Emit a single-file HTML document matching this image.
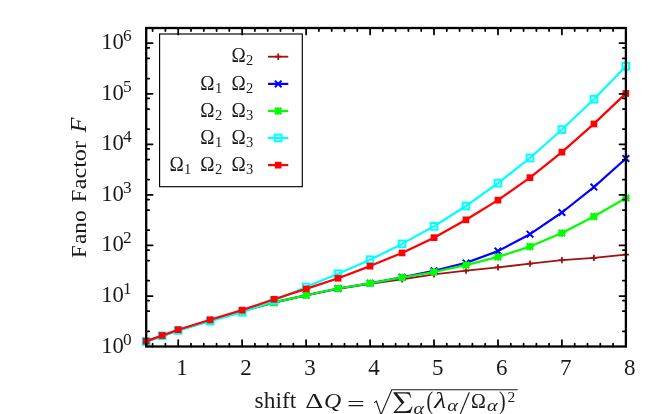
<!DOCTYPE html>
<html><head><meta charset="utf-8"><title>Fano factor</title>
<style>
html,body{margin:0;padding:0;background:#fff;}
body{width:664px;height:414px;overflow:hidden;font-family:"Liberation Serif",serif;}
svg{display:block;will-change:transform;opacity:0.999}
text{font-family:"Liberation Serif",serif;fill:#1a1a1a}
.it{font-style:italic}
</style></head><body>
<svg width="664" height="414" viewBox="0 0 664 414">
<rect width="664" height="414" fill="#fff"/>
<polyline points="146.2,341.5 162.2,336.0 178.2,330.3 210.2,320.5 242.1,311.0 274.1,302.5 306.1,295.4 338.1,288.9 370.1,283.9 402.0,279.3 434.0,274.3 466.0,270.7 498.0,267.4 530.0,263.7 561.9,260.2 593.9,257.8 625.9,254.6" fill="none" stroke="#a01212" stroke-width="1.8" stroke-linejoin="round"/>
<path d="M143.0,341.5H149.3M146.2,338.4V344.6" stroke="#a01212" stroke-width="1.8" fill="none"/>
<path d="M159.0,336.0H165.3M162.2,332.9V339.1" stroke="#a01212" stroke-width="1.8" fill="none"/>
<path d="M175.0,330.3H181.3M178.2,327.2V333.4" stroke="#a01212" stroke-width="1.8" fill="none"/>
<path d="M207.0,320.5H213.3M210.2,317.4V323.6" stroke="#a01212" stroke-width="1.8" fill="none"/>
<path d="M239.0,311.0H245.3M242.1,307.9V314.1" stroke="#a01212" stroke-width="1.8" fill="none"/>
<path d="M271.0,302.5H277.3M274.1,299.4V305.6" stroke="#a01212" stroke-width="1.8" fill="none"/>
<path d="M303.0,295.4H309.2M306.1,292.2V298.5" stroke="#a01212" stroke-width="1.8" fill="none"/>
<path d="M334.9,288.9H341.2M338.1,285.8V292.0" stroke="#a01212" stroke-width="1.8" fill="none"/>
<path d="M366.9,283.9H373.2M370.1,280.8V287.0" stroke="#a01212" stroke-width="1.8" fill="none"/>
<path d="M398.9,279.3H405.2M402.0,276.2V282.4" stroke="#a01212" stroke-width="1.8" fill="none"/>
<path d="M430.9,274.3H437.2M434.0,271.2V277.4" stroke="#a01212" stroke-width="1.8" fill="none"/>
<path d="M462.9,270.7H469.1M466.0,267.6V273.8" stroke="#a01212" stroke-width="1.8" fill="none"/>
<path d="M494.8,267.4H501.1M498.0,264.2V270.5" stroke="#a01212" stroke-width="1.8" fill="none"/>
<path d="M526.8,263.7H533.1M530.0,260.6V266.8" stroke="#a01212" stroke-width="1.8" fill="none"/>
<path d="M558.8,260.2H565.1M561.9,257.1V263.3" stroke="#a01212" stroke-width="1.8" fill="none"/>
<path d="M590.8,257.8H597.1M593.9,254.7V260.9" stroke="#a01212" stroke-width="1.8" fill="none"/>
<path d="M622.8,254.6H629.0M625.9,251.4V257.8" stroke="#a01212" stroke-width="1.8" fill="none"/>
<polyline points="146.2,341.5 162.2,336.0 178.2,330.3 210.2,320.5 242.1,311.0 274.1,302.4 306.1,295.2 338.1,288.5 370.1,283.3 402.0,277.3 434.0,270.8 466.0,262.9 498.0,251.1 530.0,234.2 561.9,212.5 593.9,187.1 625.9,158.5" fill="none" stroke="#0000ff" stroke-width="2.2" stroke-linejoin="round"/>
<path d="M142.9,338.2L149.5,344.8M142.9,344.8L149.5,338.2" stroke="#0000ff" stroke-width="2" fill="none"/>
<path d="M158.9,332.7L165.5,339.3M158.9,339.3L165.5,332.7" stroke="#0000ff" stroke-width="2" fill="none"/>
<path d="M174.9,327.0L181.5,333.6M174.9,333.6L181.5,327.0" stroke="#0000ff" stroke-width="2" fill="none"/>
<path d="M206.9,317.2L213.5,323.8M206.9,323.8L213.5,317.2" stroke="#0000ff" stroke-width="2" fill="none"/>
<path d="M238.8,307.7L245.4,314.3M238.8,314.3L245.4,307.7" stroke="#0000ff" stroke-width="2" fill="none"/>
<path d="M270.8,299.1L277.4,305.7M270.8,305.7L277.4,299.1" stroke="#0000ff" stroke-width="2" fill="none"/>
<path d="M302.8,291.9L309.4,298.5M302.8,298.5L309.4,291.9" stroke="#0000ff" stroke-width="2" fill="none"/>
<path d="M334.8,285.2L341.4,291.8M334.8,291.8L341.4,285.2" stroke="#0000ff" stroke-width="2" fill="none"/>
<path d="M366.8,280.0L373.4,286.6M366.8,286.6L373.4,280.0" stroke="#0000ff" stroke-width="2" fill="none"/>
<path d="M398.7,274.0L405.3,280.6M398.7,280.6L405.3,274.0" stroke="#0000ff" stroke-width="2" fill="none"/>
<path d="M430.7,267.5L437.3,274.1M430.7,274.1L437.3,267.5" stroke="#0000ff" stroke-width="2" fill="none"/>
<path d="M462.7,259.6L469.3,266.2M462.7,266.2L469.3,259.6" stroke="#0000ff" stroke-width="2" fill="none"/>
<path d="M494.7,247.8L501.3,254.4M494.7,254.4L501.3,247.8" stroke="#0000ff" stroke-width="2" fill="none"/>
<path d="M526.7,230.9L533.3,237.5M526.7,237.5L533.3,230.9" stroke="#0000ff" stroke-width="2" fill="none"/>
<path d="M558.6,209.2L565.2,215.8M558.6,215.8L565.2,209.2" stroke="#0000ff" stroke-width="2" fill="none"/>
<path d="M590.6,183.8L597.2,190.4M590.6,190.4L597.2,183.8" stroke="#0000ff" stroke-width="2" fill="none"/>
<path d="M622.6,155.2L629.2,161.8M622.6,161.8L629.2,155.2" stroke="#0000ff" stroke-width="2" fill="none"/>
<polyline points="146.2,341.5 162.2,336.0 178.2,330.3 210.2,320.5 242.1,311.0 274.1,302.4 306.1,295.2 338.1,288.5 370.1,283.3 402.0,277.5 434.0,272.0 466.0,265.1 498.0,256.9 530.0,246.6 561.9,233.1 593.9,216.5 625.9,198.0" fill="none" stroke="#00ff00" stroke-width="2.2" stroke-linejoin="round"/>
<path d="M142.9,338.2L149.5,344.8M142.9,344.8L149.5,338.2" stroke="#00ff00" stroke-width="2" fill="none"/><path d="M142.4,341.5H150.0M146.2,337.7V345.3" stroke="#00ff00" stroke-width="2" fill="none"/><rect x="143.2" y="338.5" width="6" height="6" fill="#00ff00"/>
<path d="M158.9,332.7L165.5,339.3M158.9,339.3L165.5,332.7" stroke="#00ff00" stroke-width="2" fill="none"/><path d="M158.4,336.0H166.0M162.2,332.2V339.8" stroke="#00ff00" stroke-width="2" fill="none"/><rect x="159.2" y="333.0" width="6" height="6" fill="#00ff00"/>
<path d="M174.9,327.0L181.5,333.6M174.9,333.6L181.5,327.0" stroke="#00ff00" stroke-width="2" fill="none"/><path d="M174.4,330.3H182.0M178.2,326.5V334.1" stroke="#00ff00" stroke-width="2" fill="none"/><rect x="175.2" y="327.3" width="6" height="6" fill="#00ff00"/>
<path d="M206.9,317.2L213.5,323.8M206.9,323.8L213.5,317.2" stroke="#00ff00" stroke-width="2" fill="none"/><path d="M206.4,320.5H214.0M210.2,316.7V324.3" stroke="#00ff00" stroke-width="2" fill="none"/><rect x="207.2" y="317.5" width="6" height="6" fill="#00ff00"/>
<path d="M238.8,307.7L245.4,314.3M238.8,314.3L245.4,307.7" stroke="#00ff00" stroke-width="2" fill="none"/><path d="M238.3,311.0H245.9M242.1,307.2V314.8" stroke="#00ff00" stroke-width="2" fill="none"/><rect x="239.1" y="308.0" width="6" height="6" fill="#00ff00"/>
<path d="M270.8,299.1L277.4,305.7M270.8,305.7L277.4,299.1" stroke="#00ff00" stroke-width="2" fill="none"/><path d="M270.3,302.4H277.9M274.1,298.6V306.2" stroke="#00ff00" stroke-width="2" fill="none"/><rect x="271.1" y="299.4" width="6" height="6" fill="#00ff00"/>
<path d="M302.8,291.9L309.4,298.5M302.8,298.5L309.4,291.9" stroke="#00ff00" stroke-width="2" fill="none"/><path d="M302.3,295.2H309.9M306.1,291.4V299.0" stroke="#00ff00" stroke-width="2" fill="none"/><rect x="303.1" y="292.2" width="6" height="6" fill="#00ff00"/>
<path d="M334.8,285.2L341.4,291.8M334.8,291.8L341.4,285.2" stroke="#00ff00" stroke-width="2" fill="none"/><path d="M334.3,288.5H341.9M338.1,284.7V292.3" stroke="#00ff00" stroke-width="2" fill="none"/><rect x="335.1" y="285.5" width="6" height="6" fill="#00ff00"/>
<path d="M366.8,280.0L373.4,286.6M366.8,286.6L373.4,280.0" stroke="#00ff00" stroke-width="2" fill="none"/><path d="M366.3,283.3H373.9M370.1,279.5V287.1" stroke="#00ff00" stroke-width="2" fill="none"/><rect x="367.1" y="280.3" width="6" height="6" fill="#00ff00"/>
<path d="M398.7,274.2L405.3,280.8M398.7,280.8L405.3,274.2" stroke="#00ff00" stroke-width="2" fill="none"/><path d="M398.2,277.5H405.8M402.0,273.7V281.3" stroke="#00ff00" stroke-width="2" fill="none"/><rect x="399.0" y="274.5" width="6" height="6" fill="#00ff00"/>
<path d="M430.7,268.7L437.3,275.3M430.7,275.3L437.3,268.7" stroke="#00ff00" stroke-width="2" fill="none"/><path d="M430.2,272.0H437.8M434.0,268.2V275.8" stroke="#00ff00" stroke-width="2" fill="none"/><rect x="431.0" y="269.0" width="6" height="6" fill="#00ff00"/>
<path d="M462.7,261.8L469.3,268.4M462.7,268.4L469.3,261.8" stroke="#00ff00" stroke-width="2" fill="none"/><path d="M462.2,265.1H469.8M466.0,261.3V268.9" stroke="#00ff00" stroke-width="2" fill="none"/><rect x="463.0" y="262.1" width="6" height="6" fill="#00ff00"/>
<path d="M494.7,253.6L501.3,260.2M494.7,260.2L501.3,253.6" stroke="#00ff00" stroke-width="2" fill="none"/><path d="M494.2,256.9H501.8M498.0,253.1V260.7" stroke="#00ff00" stroke-width="2" fill="none"/><rect x="495.0" y="253.9" width="6" height="6" fill="#00ff00"/>
<path d="M526.7,243.3L533.3,249.9M526.7,249.9L533.3,243.3" stroke="#00ff00" stroke-width="2" fill="none"/><path d="M526.2,246.6H533.8M530.0,242.8V250.4" stroke="#00ff00" stroke-width="2" fill="none"/><rect x="527.0" y="243.6" width="6" height="6" fill="#00ff00"/>
<path d="M558.6,229.8L565.2,236.4M558.6,236.4L565.2,229.8" stroke="#00ff00" stroke-width="2" fill="none"/><path d="M558.1,233.1H565.7M561.9,229.3V236.9" stroke="#00ff00" stroke-width="2" fill="none"/><rect x="558.9" y="230.1" width="6" height="6" fill="#00ff00"/>
<path d="M590.6,213.2L597.2,219.8M590.6,219.8L597.2,213.2" stroke="#00ff00" stroke-width="2" fill="none"/><path d="M590.1,216.5H597.7M593.9,212.7V220.3" stroke="#00ff00" stroke-width="2" fill="none"/><rect x="590.9" y="213.5" width="6" height="6" fill="#00ff00"/>
<path d="M622.6,194.7L629.2,201.3M622.6,201.3L629.2,194.7" stroke="#00ff00" stroke-width="2" fill="none"/><path d="M622.1,198.0H629.7M625.9,194.2V201.8" stroke="#00ff00" stroke-width="2" fill="none"/><rect x="622.9" y="195.0" width="6" height="6" fill="#00ff00"/>
<polyline points="146.2,341.6 162.2,335.9 178.2,330.4 210.2,321.3 242.1,312.3 274.1,300.4 306.1,287.0 338.1,273.8 370.1,259.8 402.0,243.9 434.0,226.3 466.0,206.0 498.0,183.1 530.0,158.0 561.9,129.5 593.9,99.2 625.9,66.3" fill="none" stroke="#00ffff" stroke-width="2.2" stroke-linejoin="round"/>
<rect x="142.8" y="338.2" width="6.7" height="6.7" fill="none" stroke="#00ffff" stroke-width="2.0"/>
<rect x="158.8" y="332.5" width="6.7" height="6.7" fill="none" stroke="#00ffff" stroke-width="2.0"/>
<rect x="174.8" y="327.0" width="6.7" height="6.7" fill="none" stroke="#00ffff" stroke-width="2.0"/>
<rect x="206.8" y="317.9" width="6.7" height="6.7" fill="none" stroke="#00ffff" stroke-width="2.0"/>
<rect x="238.8" y="308.9" width="6.7" height="6.7" fill="none" stroke="#00ffff" stroke-width="2.0"/>
<rect x="270.8" y="297.0" width="6.7" height="6.7" fill="none" stroke="#00ffff" stroke-width="2.0"/>
<rect x="302.8" y="283.6" width="6.7" height="6.7" fill="none" stroke="#00ffff" stroke-width="2.0"/>
<rect x="334.7" y="270.4" width="6.7" height="6.7" fill="none" stroke="#00ffff" stroke-width="2.0"/>
<rect x="366.7" y="256.4" width="6.7" height="6.7" fill="none" stroke="#00ffff" stroke-width="2.0"/>
<rect x="398.7" y="240.6" width="6.7" height="6.7" fill="none" stroke="#00ffff" stroke-width="2.0"/>
<rect x="430.7" y="223.0" width="6.7" height="6.7" fill="none" stroke="#00ffff" stroke-width="2.0"/>
<rect x="462.6" y="202.7" width="6.7" height="6.7" fill="none" stroke="#00ffff" stroke-width="2.0"/>
<rect x="494.6" y="179.8" width="6.7" height="6.7" fill="none" stroke="#00ffff" stroke-width="2.0"/>
<rect x="526.6" y="154.7" width="6.7" height="6.7" fill="none" stroke="#00ffff" stroke-width="2.0"/>
<rect x="558.6" y="126.2" width="6.7" height="6.7" fill="none" stroke="#00ffff" stroke-width="2.0"/>
<rect x="590.6" y="95.9" width="6.7" height="6.7" fill="none" stroke="#00ffff" stroke-width="2.0"/>
<rect x="622.5" y="62.9" width="6.7" height="6.7" fill="none" stroke="#00ffff" stroke-width="2.0"/>
<polyline points="146.2,341.1 162.2,335.5 178.2,329.7 210.2,319.8 242.1,310.1 274.1,299.3 306.1,288.9 338.1,278.3 370.1,266.1 402.0,252.9 434.0,237.7 466.0,219.8 498.0,200.1 530.0,177.7 561.9,152.1 593.9,123.9 625.9,93.4" fill="none" stroke="#ff0000" stroke-width="2.2" stroke-linejoin="round"/>
<rect x="142.8" y="337.8" width="6.7" height="6.7" fill="#ff0000"/>
<rect x="158.8" y="332.1" width="6.7" height="6.7" fill="#ff0000"/>
<rect x="174.8" y="326.3" width="6.7" height="6.7" fill="#ff0000"/>
<rect x="206.8" y="316.4" width="6.7" height="6.7" fill="#ff0000"/>
<rect x="238.8" y="306.8" width="6.7" height="6.7" fill="#ff0000"/>
<rect x="270.8" y="295.9" width="6.7" height="6.7" fill="#ff0000"/>
<rect x="302.8" y="285.5" width="6.7" height="6.7" fill="#ff0000"/>
<rect x="334.7" y="274.9" width="6.7" height="6.7" fill="#ff0000"/>
<rect x="366.7" y="262.8" width="6.7" height="6.7" fill="#ff0000"/>
<rect x="398.7" y="249.6" width="6.7" height="6.7" fill="#ff0000"/>
<rect x="430.7" y="234.3" width="6.7" height="6.7" fill="#ff0000"/>
<rect x="462.6" y="216.5" width="6.7" height="6.7" fill="#ff0000"/>
<rect x="494.6" y="196.8" width="6.7" height="6.7" fill="#ff0000"/>
<rect x="526.6" y="174.3" width="6.7" height="6.7" fill="#ff0000"/>
<rect x="558.6" y="148.8" width="6.7" height="6.7" fill="#ff0000"/>
<rect x="590.6" y="120.6" width="6.7" height="6.7" fill="#ff0000"/>
<rect x="622.5" y="90.1" width="6.7" height="6.7" fill="#ff0000"/>
<rect x="159.6" y="34" width="142.7" height="152.7" fill="#fff" stroke="#000" stroke-width="1.15"/>
<path d="M178.2,346.5v-6.4M178.2,28.0v6.4M242.1,346.5v-6.4M242.1,28.0v6.4M306.1,346.5v-6.4M306.1,28.0v6.4M370.1,346.5v-6.4M370.1,28.0v6.4M434.0,346.5v-6.4M434.0,28.0v6.4M498.0,346.5v-6.4M498.0,28.0v6.4M561.9,346.5v-6.4M561.9,28.0v6.4M625.9,346.5v-6.4M625.9,28.0v6.4M152.6,346.5v-3.0M152.6,28.0v3.0M165.4,346.5v-3.0M165.4,28.0v3.0M191.0,346.5v-3.0M191.0,28.0v3.0M203.8,346.5v-3.0M203.8,28.0v3.0M216.6,346.5v-3.0M216.6,28.0v3.0M229.3,346.5v-3.0M229.3,28.0v3.0M254.9,346.5v-3.0M254.9,28.0v3.0M267.7,346.5v-3.0M267.7,28.0v3.0M280.5,346.5v-3.0M280.5,28.0v3.0M293.3,346.5v-3.0M293.3,28.0v3.0M318.9,346.5v-3.0M318.9,28.0v3.0M331.7,346.5v-3.0M331.7,28.0v3.0M344.5,346.5v-3.0M344.5,28.0v3.0M357.3,346.5v-3.0M357.3,28.0v3.0M382.9,346.5v-3.0M382.9,28.0v3.0M395.6,346.5v-3.0M395.6,28.0v3.0M408.4,346.5v-3.0M408.4,28.0v3.0M421.2,346.5v-3.0M421.2,28.0v3.0M446.8,346.5v-3.0M446.8,28.0v3.0M459.6,346.5v-3.0M459.6,28.0v3.0M472.4,346.5v-3.0M472.4,28.0v3.0M485.2,346.5v-3.0M485.2,28.0v3.0M510.8,346.5v-3.0M510.8,28.0v3.0M523.6,346.5v-3.0M523.6,28.0v3.0M536.4,346.5v-3.0M536.4,28.0v3.0M549.1,346.5v-3.0M549.1,28.0v3.0M574.7,346.5v-3.0M574.7,28.0v3.0M587.5,346.5v-3.0M587.5,28.0v3.0M600.3,346.5v-3.0M600.3,28.0v3.0M613.1,346.5v-3.0M613.1,28.0v3.0M146.2,331.3h3.0M625.9,331.3h-3.0M146.2,311.2h3.0M625.9,311.2h-3.0M146.2,300.6h3.0M625.9,300.6h-3.0M146.2,296.0h6.4M625.9,296.0h-6.4M146.2,280.7h3.0M625.9,280.7h-3.0M146.2,260.6h3.0M625.9,260.6h-3.0M146.2,250.0h3.0M625.9,250.0h-3.0M146.2,245.4h6.4M625.9,245.4h-6.4M146.2,230.2h3.0M625.9,230.2h-3.0M146.2,210.1h3.0M625.9,210.1h-3.0M146.2,199.5h3.0M625.9,199.5h-3.0M146.2,194.9h6.4M625.9,194.9h-6.4M146.2,179.6h3.0M625.9,179.6h-3.0M146.2,159.5h3.0M625.9,159.5h-3.0M146.2,148.9h3.0M625.9,148.9h-3.0M146.2,144.3h6.4M625.9,144.3h-6.4M146.2,129.1h3.0M625.9,129.1h-3.0M146.2,109.0h3.0M625.9,109.0h-3.0M146.2,98.4h3.0M625.9,98.4h-3.0M146.2,93.8h6.4M625.9,93.8h-6.4M146.2,78.5h3.0M625.9,78.5h-3.0M146.2,58.4h3.0M625.9,58.4h-3.0M146.2,47.8h3.0M625.9,47.8h-3.0M146.2,43.2h6.4M625.9,43.2h-6.4" stroke="#000" stroke-width="1.75" stroke-linecap="round" fill="none"/>
<rect x="146.2" y="28.0" width="479.7" height="318.5" fill="none" stroke="#000" stroke-width="2.3"/>
<path d="M268,56.7H288.3" stroke="#a01212" stroke-width="1.8"/>
<path d="M275.1,56.7H281.3M278.2,53.6V59.9" stroke="#a01212" stroke-width="1.8" fill="none"/>
<text x="231.4" y="62.3" font-size="21" textLength="14.2" lengthAdjust="spacingAndGlyphs">Ω</text>
<text x="246.0" y="65.4" font-size="14.5">2</text>
<path d="M268,83.9H288.3" stroke="#0000ff" stroke-width="2.2"/>
<path d="M274.9,80.6L281.5,87.2M274.9,87.2L281.5,80.6" stroke="#0000ff" stroke-width="2" fill="none"/>
<text x="200.3" y="89.5" font-size="21" textLength="14.2" lengthAdjust="spacingAndGlyphs">Ω</text>
<text x="214.9" y="92.6" font-size="14.5">1</text>
<text x="231.4" y="89.5" font-size="21" textLength="14.2" lengthAdjust="spacingAndGlyphs">Ω</text>
<text x="246.0" y="92.6" font-size="14.5">2</text>
<path d="M268,111.0H288.3" stroke="#00ff00" stroke-width="2.2"/>
<path d="M274.9,107.7L281.5,114.3M274.9,114.3L281.5,107.7" stroke="#00ff00" stroke-width="2" fill="none"/><path d="M274.4,111.0H282.0M278.2,107.2V114.8" stroke="#00ff00" stroke-width="2" fill="none"/><rect x="275.2" y="108.0" width="6" height="6" fill="#00ff00"/>
<text x="200.3" y="116.6" font-size="21" textLength="14.2" lengthAdjust="spacingAndGlyphs">Ω</text>
<text x="214.9" y="119.7" font-size="14.5">2</text>
<text x="231.4" y="116.6" font-size="21" textLength="14.2" lengthAdjust="spacingAndGlyphs">Ω</text>
<text x="246.0" y="119.7" font-size="14.5">3</text>
<path d="M268,137.9H288.3" stroke="#00ffff" stroke-width="2.2"/>
<rect x="274.8" y="134.6" width="6.7" height="6.7" fill="none" stroke="#00ffff" stroke-width="2.0"/>
<text x="200.3" y="143.5" font-size="21" textLength="14.2" lengthAdjust="spacingAndGlyphs">Ω</text>
<text x="214.9" y="146.6" font-size="14.5">1</text>
<text x="231.4" y="143.5" font-size="21" textLength="14.2" lengthAdjust="spacingAndGlyphs">Ω</text>
<text x="246.0" y="146.6" font-size="14.5">3</text>
<path d="M268,165.1H288.3" stroke="#ff0000" stroke-width="2.2"/>
<rect x="274.8" y="161.8" width="6.7" height="6.7" fill="#ff0000"/>
<text x="169.4" y="170.7" font-size="21" textLength="14.2" lengthAdjust="spacingAndGlyphs">Ω</text>
<text x="184.0" y="173.8" font-size="14.5">1</text>
<text x="200.3" y="170.7" font-size="21" textLength="14.2" lengthAdjust="spacingAndGlyphs">Ω</text>
<text x="214.9" y="173.8" font-size="14.5">2</text>
<text x="231.4" y="170.7" font-size="21" textLength="14.2" lengthAdjust="spacingAndGlyphs">Ω</text>
<text x="246.0" y="173.8" font-size="14.5">3</text>
<text x="101.2" y="352.5" font-size="23.5" textLength="22.6" lengthAdjust="spacingAndGlyphs">10</text>
<text x="122.9" y="344.5" font-size="17.3">0</text>
<text x="101.2" y="302.0" font-size="23.5" textLength="22.6" lengthAdjust="spacingAndGlyphs">10</text>
<text x="122.9" y="294.0" font-size="17.3">1</text>
<text x="101.2" y="251.4" font-size="23.5" textLength="22.6" lengthAdjust="spacingAndGlyphs">10</text>
<text x="122.9" y="243.4" font-size="17.3">2</text>
<text x="101.2" y="200.9" font-size="23.5" textLength="22.6" lengthAdjust="spacingAndGlyphs">10</text>
<text x="122.9" y="192.9" font-size="17.3">3</text>
<text x="101.2" y="150.3" font-size="23.5" textLength="22.6" lengthAdjust="spacingAndGlyphs">10</text>
<text x="122.9" y="142.3" font-size="17.3">4</text>
<text x="101.2" y="99.8" font-size="23.5" textLength="22.6" lengthAdjust="spacingAndGlyphs">10</text>
<text x="122.9" y="91.8" font-size="17.3">5</text>
<text x="101.2" y="49.2" font-size="23.5" textLength="22.6" lengthAdjust="spacingAndGlyphs">10</text>
<text x="122.9" y="41.2" font-size="17.3">6</text>
<text x="182.0" y="375.0" font-size="23" text-anchor="middle">1</text>
<text x="245.9" y="375.0" font-size="23" text-anchor="middle">2</text>
<text x="309.9" y="375.0" font-size="23" text-anchor="middle">3</text>
<text x="373.9" y="375.0" font-size="23" text-anchor="middle">4</text>
<text x="437.8" y="375.0" font-size="23" text-anchor="middle">5</text>
<text x="501.8" y="375.0" font-size="23" text-anchor="middle">6</text>
<text x="565.7" y="375.0" font-size="23" text-anchor="middle">7</text>
<text x="629.7" y="375.0" font-size="23" text-anchor="middle">8</text>
<g transform="translate(86,0) rotate(-90)">
<text x="-257.9" y="0" font-size="21.5" textLength="12.6" lengthAdjust="spacingAndGlyphs">F</text>
<text x="-244.0" y="0" font-size="21.5" textLength="33.6" lengthAdjust="spacingAndGlyphs">ano</text>
<text x="-202.2" y="0" font-size="21.5" textLength="12.6" lengthAdjust="spacingAndGlyphs">F</text>
<text x="-189.3" y="0" font-size="21.5" textLength="48.3" lengthAdjust="spacingAndGlyphs">actor</text>
<text x="-132.4" y="0" font-size="22.5" class="it" textLength="15" lengthAdjust="spacingAndGlyphs">F</text>
</g>
<text x="254.6" y="408.4" font-size="22.5" textLength="41.6" lengthAdjust="spacingAndGlyphs">shift</text>
<text x="305.3" y="408.4" font-size="21.5" textLength="18" lengthAdjust="spacingAndGlyphs">Δ</text>
<text x="324.0" y="408.4" font-size="21.5" class="it" textLength="17.2" lengthAdjust="spacingAndGlyphs">Q</text>
<text x="346.9" y="411.0" font-size="21.5" textLength="17.8" lengthAdjust="spacingAndGlyphs">=</text>
<path d="M374.2,402.6l2.2,-1.4l4.6,13.5L391.8,389.7H517.7" fill="none" stroke="#1a1a1a" stroke-width="1.1"/>
<path d="M393.4,392.3H409.6L411.4,397.7H410.6C409.8,395 408.5,393.5 405,393.5H397L404.4,402.3L396,411.2H405.5C409,411.2 410.6,409.9 411.8,406.6H412.6L410.4,413.1H393.4V412.4L401.5,403.5L393.4,393.1Z" fill="#1a1a1a"/>
<text x="413.4" y="413.59999999999997" font-size="17" class="it" textLength="10.6" lengthAdjust="spacingAndGlyphs">α</text>
<text x="426.6" y="409.2" font-size="25" textLength="6.6" lengthAdjust="spacingAndGlyphs">(</text>
<text x="434.2" y="408.4" font-size="23" class="it" textLength="12" lengthAdjust="spacingAndGlyphs">λ</text>
<text x="447.3" y="411.4" font-size="17" class="it" textLength="10.6" lengthAdjust="spacingAndGlyphs">α</text>
<path d="M460.3,414L469.3,392.2" stroke="#1a1a1a" stroke-width="1.15"/>
<text x="470.9" y="408.4" font-size="21" textLength="14.8" lengthAdjust="spacingAndGlyphs">Ω</text>
<text x="486.9" y="411.4" font-size="17" class="it" textLength="10.6" lengthAdjust="spacingAndGlyphs">α</text>
<text x="499" y="409.2" font-size="25" textLength="6.6" lengthAdjust="spacingAndGlyphs">)</text>
<text x="507.4" y="401.59999999999997" font-size="15.5">2</text>
</svg></body></html>
